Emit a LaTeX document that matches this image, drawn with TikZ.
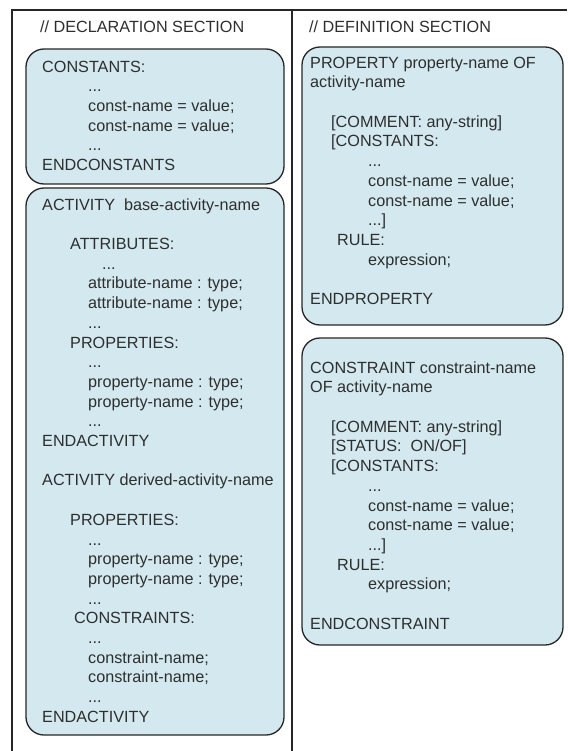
\documentclass[tikz,border=0pt]{standalone}
\usepackage{fontspec}
\setmainfont{Liberation Sans}
\definecolor{boxfill}{HTML}{D3E9EF}
\definecolor{boxline}{HTML}{262626}
\definecolor{txt}{HTML}{2E2E2E}
\newcommand\indl[1]{\strut\hspace*{#1pt}}
\begin{document}
\begin{tikzpicture}[x=1pt,y=-1pt,
  sect/.style={rounded corners=18pt, draw=boxline, line width=1.3pt, fill=boxfill},
  code/.style={anchor=north west, inner sep=0pt, align=left, text=txt,
    font=\fontsize{16.2}{19.7}\selectfont},
  head/.style={anchor=base west, inner sep=0pt, text=txt,
    font=\fontsize{16.2}{19.7}\selectfont},
  frame/.style={draw=boxline, line width=1.2pt}]
\useasboundingbox (0,0) rectangle (567,751);
% frame and the two columns
\draw[frame] (12,751) -- (12,10) -- (567,10);
\draw[frame] (292,10) -- (292,751);
\node[head] (decl) at (40,33) {// DECLARATION SECTION};
\node[head] (defn) at (309,33) {// DEFINITION SECTION};
% declaration section
\draw[sect] (26,49) rectangle (284,184);
\draw[sect] (26,188) rectangle (284,735);
\node[code] (consts) at (42,58.2) {%
\indl{0}CONSTANTS:\\
\indl{46}...\\
\indl{46}const-name = value;\\
\indl{46}const-name = value;\\
\indl{46}...\\
\indl{0}ENDCONSTANTS};
\node[code] (activ) at (42,196.2) {%
\indl{0}ACTIVITY\hspace{9pt}base-activity-name\\
\indl{0}\\
\indl{28}ATTRIBUTES:\\
\indl{60}...\\
\indl{46}attribute-name : type;\\
\indl{46}attribute-name : type;\\
\indl{46}...\\
\indl{28}PROPERTIES:\\
\indl{46}...\\
\indl{46}property-name : type;\\
\indl{46}property-name : type;\\
\indl{46}...\\
\indl{0}ENDACTIVITY\\
\indl{0}\\
\indl{0}ACTIVITY derived-activity-name\\
\indl{0}\\
\indl{28}PROPERTIES:\\
\indl{46}...\\
\indl{46}property-name : type;\\
\indl{46}property-name : type;\\
\indl{46}...\\
\indl{32}CONSTRAINTS:\\
\indl{46}...\\
\indl{46}constraint-name;\\
\indl{46}constraint-name;\\
\indl{46}...\\
\indl{0}ENDACTIVITY};
% definition section
\draw[sect] (302,47) rectangle (563,325);
\draw[sect] (302,338) rectangle (563,645);
\node[code] (prop) at (310,54.2) {%
\indl{0}PROPERTY property-name OF\\
\indl{0}activity-name\\
\indl{0}\\
\indl{21}[COMMENT: any-string]\\
\indl{21}[CONSTANTS:\\
\indl{58}...\\
\indl{58}const-name = value;\\
\indl{58}const-name = value;\\
\indl{58}...]\\
\indl{27}RULE:\\
\indl{58}expression;\\
\indl{0}\\
\indl{0}ENDPROPERTY};
\node[code] (constr) at (310,359.2) {%
\indl{0}CONSTRAINT constraint-name\\
\indl{0}OF activity-name\\
\indl{0}\\
\indl{21}[COMMENT: any-string]\\
\indl{21}[STATUS:\hspace{9pt}ON/OF]\\
\indl{21}[CONSTANTS:\\
\indl{58}...\\
\indl{58}const-name = value;\\
\indl{58}const-name = value;\\
\indl{58}...]\\
\indl{27}RULE:\\
\indl{58}expression;\\
\indl{0}\\
\indl{0}ENDCONSTRAINT};
\end{tikzpicture}
\end{document}
